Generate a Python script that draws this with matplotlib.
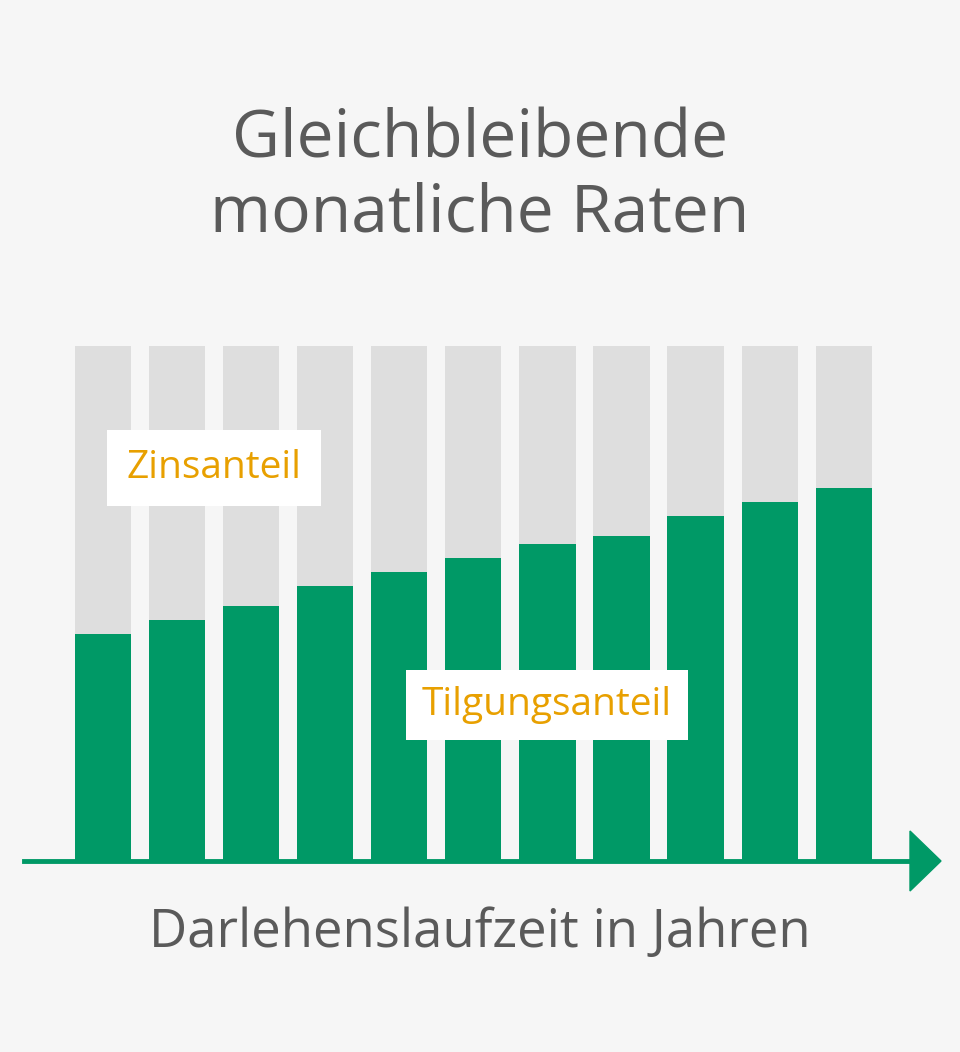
import matplotlib
matplotlib.use("Agg")
import matplotlib.pyplot as plt
from matplotlib.patches import Polygon

years = list(range(11))
total = [514] * 11
tilgung = [226, 240, 254, 274, 288, 302, 316, 324, 344, 358, 372]
zins = [t - g for t, g in zip(total, tilgung)]

bg = "#f6f6f6"
grey = "#dedede"
green = "#009966"
orange = "#e8a000"
textc = "#5a5a5a"

W, H = 960, 1052
fig = plt.figure(figsize=(9.6, 10.52), dpi=100, facecolor=bg)

# axes placed so one data unit in y = one pixel
ax = fig.add_axes([25 / W, (H - 900) / H, 930 / W, 554 / H])
ax.set_xlim(-1.05, 11.5)
ax.set_ylim(-40, 514)
ax.axis("off")
ax.bar(years, tilgung, width=0.76, color=green)
ax.bar(years, zins, bottom=tilgung, width=0.76, color=grey)

# axis line with arrow (figure pixel coords)
fx = lambda px: px / W
fy = lambda py: (H - py) / H
fig.add_artist(plt.Line2D([fx(24), fx(912)], [fy(861), fy(861)], color=green, lw=3.5))
fig.add_artist(Polygon([(fx(910), fy(831)), (fx(941), fy(861)), (fx(910), fy(891))],
                       closed=True, color=green, transform=fig.transFigure))

font = "Open Sans"
fig.text(0.5, fy(140), "Gleichbleibende", ha="center", va="center", fontsize=47.5, color=textc, family=font)
fig.text(0.5, fy(214), "monatliche Raten", ha="center", va="center", fontsize=47.5, color=textc, family=font)
fig.text(0.5, fy(933), "Darlehenslaufzeit in Jahren", ha="center", va="center", fontsize=38, color=textc, family=font)

fig.text(fx(214), fy(468), "Zinsanteil", ha="center", va="center", fontsize=28, color=orange, family=font,
         bbox=dict(facecolor="white", edgecolor="none", boxstyle="square,pad=0.5"))
fig.text(fx(547), fy(705), "Tilgungsanteil", ha="center", va="center", fontsize=28, color=orange, family=font,
         bbox=dict(facecolor="white", edgecolor="none", boxstyle="square,pad=0.4"))

fig.savefig("out.png", dpi=100, facecolor=bg)
